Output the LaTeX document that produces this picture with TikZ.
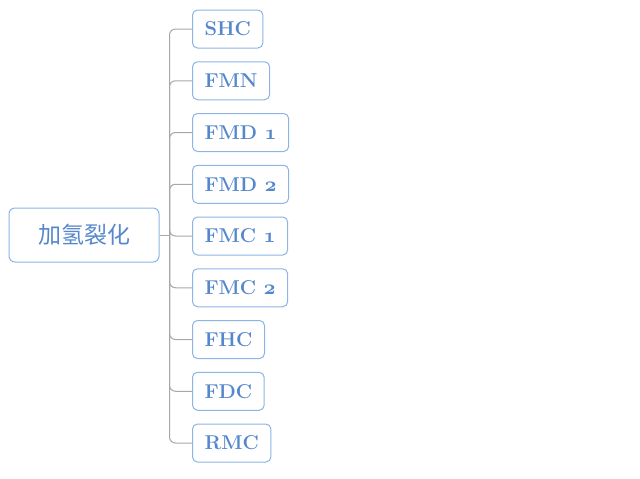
\documentclass[tikz,border=0pt]{standalone}
\usepackage{fontspec}
\newfontfamily\cjk{Noto Sans CJK SC}
\usetikzlibrary{positioning}

\definecolor{boxline}{RGB}{140,180,230}
\definecolor{boxtext}{RGB}{85,135,205}
\definecolor{linkgray}{RGB}{168,168,168}

% old-style digits from the bold math italic font
\newcommand{\osnum}[1]{{\fontencoding{OML}\fontfamily{cmm}\fontseries{b}\fontshape{it}\selectfont #1}}

\begin{document}
\begin{tikzpicture}[x=1pt,y=-1pt,
    root/.style={draw=boxline,line width=1pt,rounded corners=6pt,fill=white,
        minimum width=150pt,minimum height=54pt,text=boxtext,font=\cjk\fontsize{23}{26}\selectfont},
    leaf/.style={draw=boxline,line width=1pt,rounded corners=5pt,fill=white,
        minimum height=38pt,inner xsep=12pt,text=boxtext,font=\bfseries\fontsize{20}{24}\selectfont},
    link/.style={draw=linkgray,line width=1pt,rounded corners=6pt}]

    \useasboundingbox (0,0) rectangle (640,479);

    \node[root] (root) at (84,235) {加氢裂化};

    \node[leaf,anchor=west] (shc) at (192,29) {SHC};
    \foreach \name/\txt [remember=\name as \prev (initially shc)] in
        {fmn/FMN, fmd1/FMD \osnum{1}, fmd2/FMD \osnum{2},
         fmc1/FMC \osnum{1}, fmc2/FMC \osnum{2},
         fhc/FHC, fdc/FDC, rmc/RMC}
        \node[leaf,below=12.75pt of \prev.south west,anchor=north west] (\name) {\txt};

    \coordinate (trunk) at ([xshift=10pt]root.east);

    \draw[link] (root.east) -- (trunk);
    \foreach \name in {shc,fmn,fmd1,fmd2,fmc1,fmc2,fhc,fdc,rmc}
        \draw[link] (trunk) |- (\name.west);

\end{tikzpicture}
\end{document}
